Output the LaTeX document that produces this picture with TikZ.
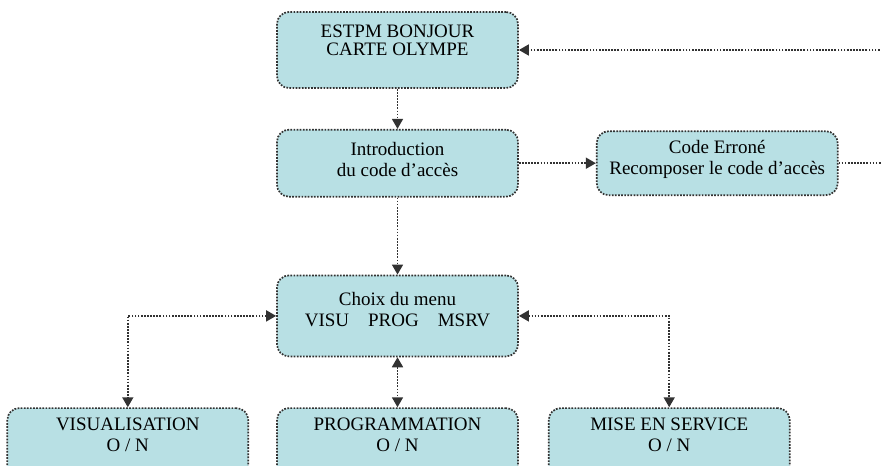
\documentclass[tikz,border=0pt]{standalone}
\usepackage{fontspec}
\setmainfont{Liberation Serif}
\usetikzlibrary{positioning,arrows.meta}
\definecolor{fondbleu}{RGB}{184,224,228}
\definecolor{traitgris}{RGB}{50,50,50}

\begin{document}
\begin{tikzpicture}[x=1pt,y=1pt,
  node distance=20pt,
  boite/.style={draw=traitgris, fill=fondbleu, rounded corners=6pt,
    line width=0.85pt, dash pattern=on 0.85pt off 0.7pt,
    minimum width=120.5pt, align=center, inner sep=3pt,
    font=\fontsize{9.5}{10.5}\selectfont},
  choixbas/.style={boite, inner ysep=5pt, text depth=14pt},
  fleche/.style={draw=traitgris, line width=0.85pt, dash pattern=on 0.85pt off 0.7pt,
    -{Triangle[length=5pt,width=5.5pt]}},
  dfleche/.style={fleche, {Triangle[length=5pt,width=5.5pt]}-{Triangle[length=5pt,width=5.5pt]}}]
  \useasboundingbox (0,0) rectangle (440.5,-232.5);

  \node[boite, minimum height=38pt, text depth=9.5pt] (accueil) at (198.75,-25) {ESTPM BONJOUR\\[-1.5pt]CARTE OLYMPE};
  \node[boite, minimum height=33.5pt, text depth=4pt] (intro) [below=of accueil] {Introduction\\du code d'accès};
  \node[boite, minimum height=32pt, text depth=5.5pt] (erreur) [right=38.5pt of intro] {Code Erroné\\Recomposer le code d'accès};
  \node[boite, minimum height=40.5pt, text depth=6.5pt] (choix) [below=38.5pt of intro] {Choix du menu\\VISU\quad PROG\quad MSRV};
  \node[choixbas] (prog) [below=25pt of choix] {PROGRAMMATION\\O / N};
  \node[choixbas] (visu) [left=13.5pt of prog] {VISUALISATION\\O / N};
  \node[choixbas] (msrv) [right=14.5pt of prog] {MISE EN SERVICE\\O / N};

  \draw[fleche] (accueil) -- (intro);
  \draw[fleche] (intro) -- (erreur);
  \draw[fleche] (erreur.east) -- ++(30,0) |- (accueil.east);
  \draw[fleche] (intro) -- (choix);
  \draw[dfleche] (choix.west) -| (visu.north);
  \draw[dfleche] (choix.south) -- (prog.north);
  \draw[dfleche] (choix.east) -| (msrv.north);
\end{tikzpicture}
\end{document}
